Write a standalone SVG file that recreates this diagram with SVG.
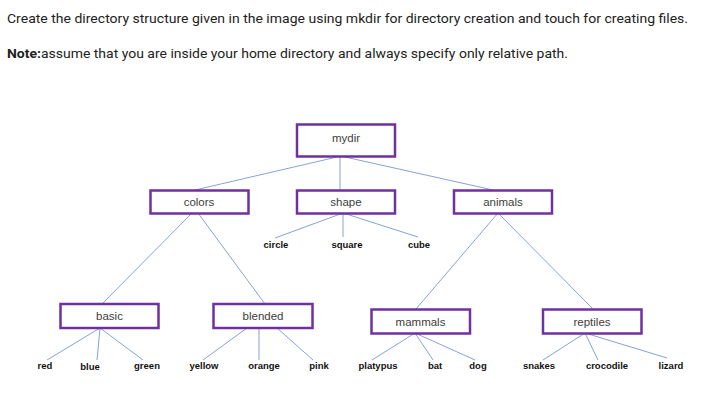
<svg xmlns="http://www.w3.org/2000/svg" width="710" height="402" viewBox="0 0 710 402">
<style>
.hdr{font-family:Roboto,"Liberation Sans",sans-serif;font-size:13px;fill:#222}
.box{fill:#fff;stroke:#7030A0;stroke-width:2.5}
.bl{font-family:"Liberation Sans",Arial,sans-serif;font-size:11.5px;fill:#404040;text-anchor:middle}
.lf{font-family:"Liberation Sans",Arial,sans-serif;font-size:9.5px;font-weight:bold;fill:#111;text-anchor:middle}
.cn line{stroke:#86A3D6;stroke-width:1}
</style>
<rect width="710" height="402" fill="#fff"/>
<text class="hdr" x="7" y="23" textLength="681" lengthAdjust="spacingAndGlyphs">Create the directory structure given in the image using mkdir for directory creation and touch for creating files.</text>
<text class="hdr" x="7" y="58" textLength="561" lengthAdjust="spacingAndGlyphs"><tspan font-weight="bold">Note:</tspan>assume that you are inside your home directory and always specify only relative path.</text>
<g id="connectors" class="cn">
<line x1="337" y1="157" x2="195" y2="190"/>
<line x1="340" y1="157" x2="340" y2="190"/>
<line x1="345" y1="157" x2="493" y2="190"/>
<line x1="343" y1="213" x2="275" y2="238"/>
<line x1="343" y1="213" x2="343" y2="237"/>
<line x1="343" y1="213" x2="418" y2="237"/>
<line x1="192" y1="213" x2="102" y2="304"/>
<line x1="198" y1="213" x2="265" y2="304"/>
<line x1="498" y1="213" x2="416" y2="309"/>
<line x1="498" y1="213" x2="593" y2="309"/>
<line x1="100" y1="328" x2="47" y2="360"/>
<line x1="100" y1="328" x2="97" y2="360"/>
<line x1="100" y1="328" x2="143" y2="360"/>
<line x1="247" y1="328" x2="203" y2="360"/>
<line x1="259" y1="328" x2="259" y2="360"/>
<line x1="277" y1="328" x2="313" y2="360"/>
<line x1="415" y1="333" x2="372" y2="360"/>
<line x1="415" y1="333" x2="433" y2="360"/>
<line x1="415" y1="333" x2="475" y2="360"/>
<line x1="585" y1="333" x2="543" y2="360"/>
<line x1="585" y1="333" x2="598" y2="360"/>
<line x1="585" y1="333" x2="667" y2="358"/>
</g>
<g id="mydir"><rect class="box" x="297" y="124.5" width="98" height="32"/><text class="bl" x="346" y="142">mydir</text></g>
<g id="colors"><rect class="box" x="150.5" y="190.5" width="98" height="23"/><text class="bl" x="199" y="206">colors</text></g>
<g id="shape"><rect class="box" x="297" y="190.5" width="98" height="23"/><text class="bl" x="346" y="206">shape</text></g>
<g id="animals"><rect class="box" x="454" y="190.5" width="98" height="23"/><text class="bl" x="503" y="206">animals</text></g>
<g id="circle"><text class="lf" x="276" y="248">circle</text></g>
<g id="square"><text class="lf" x="347" y="248">square</text></g>
<g id="cube"><text class="lf" x="419" y="248">cube</text></g>
<g id="basic"><rect class="box" x="60.5" y="304" width="98" height="24"/><text class="bl" x="109.5" y="320">basic</text></g>
<g id="blended"><rect class="box" x="213.5" y="304" width="99" height="24"/><text class="bl" x="263" y="320">blended</text></g>
<g id="mammals"><rect class="box" x="371.5" y="309.5" width="98.5" height="24"/><text class="bl" x="420.5" y="326">mammals</text></g>
<g id="reptiles"><rect class="box" x="543" y="309.5" width="98.5" height="24"/><text class="bl" x="592" y="326">reptiles</text></g>
<g id="red"><text class="lf" x="45" y="369">red</text></g>
<g id="blue"><text class="lf" x="90" y="370">blue</text></g>
<g id="green"><text class="lf" x="147" y="369">green</text></g>
<g id="yellow"><text class="lf" x="204" y="369">yellow</text></g>
<g id="orange"><text class="lf" x="264" y="369">orange</text></g>
<g id="pink"><text class="lf" x="319" y="369">pink</text></g>
<g id="platypus"><text class="lf" x="378" y="369">platypus</text></g>
<g id="bat"><text class="lf" x="435" y="369">bat</text></g>
<g id="dog"><text class="lf" x="478" y="369">dog</text></g>
<g id="snakes"><text class="lf" x="539" y="369">snakes</text></g>
<g id="crocodile"><text class="lf" x="607" y="369">crocodile</text></g>
<g id="lizard"><text class="lf" x="671" y="369">lizard</text></g>
</svg>
